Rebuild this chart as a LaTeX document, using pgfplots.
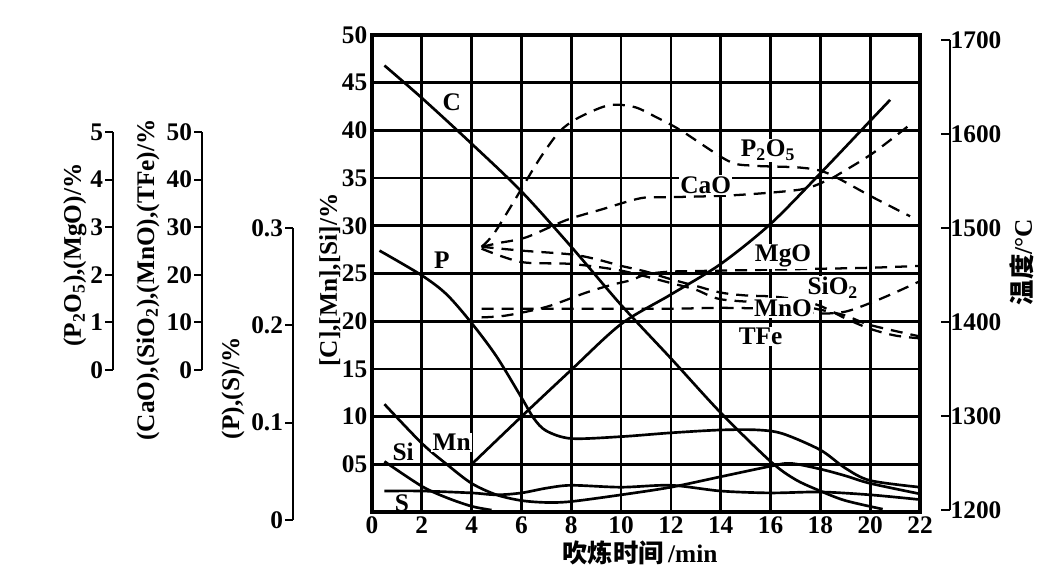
\documentclass[border=0pt]{standalone}
\usepackage{fontspec}
\setmainfont{Liberation Serif}
\newfontfamily\cjk{Noto Sans CJK SC}
\usepackage{pgfplots}
\pgfplotsset{compat=1.18}
\newcommand\lab{\fontsize{19}{21}\selectfont\bfseries}
\tikzset{cl/.style={font=\lab, fill=white, inner sep=1pt}}
\begin{document}
\begin{tikzpicture}[x=0.75pt,y=-0.75pt]
\useasboundingbox (0,0) rectangle (1042,585);
\pgfplotsset{
  every axis/.append style={
    /pgf/number format/assume math mode=true,
    ticklabel style={font=\lab},
  },
  side/.style={scale only axis, width=1pt, hide x axis, xmin=0, xmax=1,
    axis y line*=left, tick align=outside, major tick length=6pt,
    axis line style={line width=1.6pt}, tick style={line width=1.4pt, black},
    yticklabel style={xshift=2pt}},
  solid curve/.style={black, line width=2pt, smooth, no marks},
  dash curve/.style={black, line width=1.7pt, smooth, no marks, dash pattern=on 9pt off 6pt},
}
% ---- main axis ----
\begin{axis}[at={(279pt,-384pt)}, anchor=south west, scale only axis,
  width=411pt, height=357.75pt,
  xmin=0, xmax=22, ymin=0, ymax=50,
  xtick={0,2,...,22}, xticklabels={0,2,4,6,8,10,12,14,16,18,20,22},
  ytick={5,10,...,50}, yticklabels={05,10,15,20,25,30,35,40,45,50},
  grid=major, major grid style={black, line width=2pt},
  axis line style={line width=2.4pt}, major tick length=0pt,
  clip=false]
% [C]
\addplot[solid curve] coordinates {(0.5,46.8) (2,43.4) (4,38.6) (6,33.6) (8,27.8) (10,21.7) (12,16.1) (14,10.4) (16,5.3) (17,3.4) (18,2.2) (19,1.2) (20.5,0.3)};
% (P)
\addplot[solid curve] coordinates {(0.3,27.4) (2,24.8) (3,22.8) (4,19.8) (5,16.3) (6,12.0) (6.5,9.8) (7,8.5) (8,7.7) (10,7.9) (12,8.3) (14,8.6) (15.5,8.6) (16.5,8.2) (18,6.5) (19,4.6) (20,3.3) (22,2.6)};
% [Mn]
\addplot[solid curve] coordinates {(0.5,11.3) (2,7.2) (3,5.0) (4,3.0) (5,1.8) (6,1.2) (7,1.0) (8,1.1) (10,1.8) (12,2.6) (14,3.7) (16,4.8) (16.8,5.1) (18,4.5) (19,3.8) (20,3.0) (22,1.9)};
% (S)
\addplot[solid curve] coordinates {(0.5,2.2) (2,2.2) (4,2.0) (5,1.8) (6,2.0) (7,2.5) (8,2.8) (10,2.6) (12,2.8) (14,2.2) (16,2.0) (18,2.1) (20,1.8) (22,1.3)};
% [Si]
\addplot[solid curve] coordinates {(0.5,5.3) (2,2.7) (3,1.5) (4,0.6) (4.8,0.2)};
% temperature
\addplot[solid curve] coordinates {(4,5) (6,10) (8,14.9) (10,19.7) (12,22.8) (14,26.0) (16,30.2) (18,35.5) (20,41.0) (20.8,43.2)};
% P2O5
\addplot[dash curve] coordinates {(4.4,27.8) (4.9,29.2) (5.8,33) (6.7,36.9) (7.5,39.8) (8.2,41.2) (9.2,42.4) (9.8,42.7) (10.6,42.4) (11.4,41.4) (12.4,40.0) (14.3,36.8) (15.3,36.3) (17.2,36.1) (18.3,35.5) (20.1,33.0) (21.6,31.0)};
% CaO
\addplot[dash curve] coordinates {(4.4,27.8) (5.1,28.2) (6.2,28.8) (7.8,30.6) (9.2,31.7) (10.8,32.9) (12,33) (14.5,33.2) (17.2,33.8) (18.3,34.8) (18.8,35.5) (20.1,37.6) (21.5,40.4)};
% SiO2
\addplot[dash curve] coordinates {(4.4,27.8) (6,27.4) (8,27.0) (9,26.5) (10,25.8) (11,25.2) (12,24.4) (13,23.7) (14,23.0) (15,22.7) (16,22.6) (17,22.3) (18,21.6) (19,20.3) (20,19.2) (21,18.5) (22,18.2)};
% MnO
\addplot[dash curve] coordinates {(4.4,27.6) (6,26.2) (8,26.0) (10,25.3) (12,24.0) (13,23.3) (14,22.3) (16,21.9) (17,21.7) (18,21.2) (19,20.6) (20,19.6) (22,18.4)};
% TFe
\addplot[dash curve] coordinates {(4.4,21.3) (6,21.3) (8,21.3) (10,21.3) (12,21.3) (14,21.4) (16,21.3) (17,21.1) (18,20.8) (19,21.0) (20,21.9) (21,23.0) (22,24.2)};
% MgO
\addplot[dash curve] coordinates {(4.4,20.4) (5.4,20.6) (7,21.5) (8.6,23.0) (9.6,23.8) (10.4,24.3) (11,24.9) (12,25.2) (14,25.3) (16,25.4) (18,25.5) (20,25.6) (22,25.8)};
% curve labels
\node[cl] at (axis cs:3.2,42.9) {C};
\node[cl] at (axis cs:2.8,26.4) {P};
\node[cl] at (axis cs:3.2,7.3) {Mn};
\node[cl] at (axis cs:1.25,6.3) {Si};
\node[cl, fill=none] at (axis cs:1.2,0.95) {S};
\node[cl] at (axis cs:15.9,37.9) {P\textsubscript{2}O\textsubscript{5}};
\node[cl] at (axis cs:13.4,34.3) {CaO};
\node[cl] at (axis cs:16.5,26.8) {MgO};
\node[cl] at (axis cs:18.5,23.5) {SiO\textsubscript{2}};
\node[cl] at (axis cs:16.5,21.4) {MnO};
\node[cl] at (axis cs:15.6,18.4) {TFe};
\end{axis}
% ---- temperature axis ----
\begin{axis}[at={(712.5pt,-382.5pt)}, anchor=south east, scale only axis, width=1pt, height=352.5pt,
  hide x axis, xmin=0, xmax=1, ymin=1200, ymax=1700,
  axis y line*=right, tick align=inside, major tick length=7pt,
  axis line style={line width=1.6pt}, tick style={line width=1.4pt, black},
  ytick={1200,1300,...,1700}, yticklabels={1200,1300,1400,1500,1600,1700},
  yticklabel style={xshift=-3pt}]
\addplot[draw=none] coordinates {(0,1200)};
\end{axis}
% ---- (P),(S) axis ----
\begin{axis}[side, at={(219.75pt,-390pt)}, anchor=south west, height=219pt,
  ymin=0, ymax=0.3, ytick={0,0.1,0.2,0.3}, yticklabels={0,0.1,0.2,0.3}]
\addplot[draw=none] coordinates {(0,0)};
\end{axis}
% ---- (CaO)... axis ----
\begin{axis}[side, at={(151.5pt,-277.5pt)}, anchor=south west, height=178.5pt,
  ymin=0, ymax=50, ytick={0,10,...,50}, yticklabels={0,10,20,30,40,50}]
\addplot[draw=none] coordinates {(0,0)};
\end{axis}
% ---- (P2O5),(MgO) axis ----
\begin{axis}[side, at={(84.75pt,-277.5pt)}, anchor=south west, height=178.5pt,
  ymin=0, ymax=5, ytick={0,1,...,5}, yticklabels={0,1,2,3,4,5}]
\addplot[draw=none] coordinates {(0,0)};
\end{axis}
% ---- axis titles ----
\node[rotate=90, font=\lab] at (75,255) {(P\textsubscript{2}O\textsubscript{5}),(MgO)/\%};
\node[rotate=90, font=\lab] at (148,280) {(CaO),(SiO\textsubscript{2}),(MnO),(TFe)/\%};
\node[rotate=90, font=\lab] at (233,388) {(P),(S)/\%};
\node[rotate=90, font=\lab] at (330,280) {[C],[Mn],[Si]/\%};
\node[rotate=90, font=\lab] at (1022,262) {{\cjk 温度}/°C};
\node[font=\lab] at (640,553) {{\cjk 吹炼时间}\,/min};
\end{tikzpicture}
\end{document}
